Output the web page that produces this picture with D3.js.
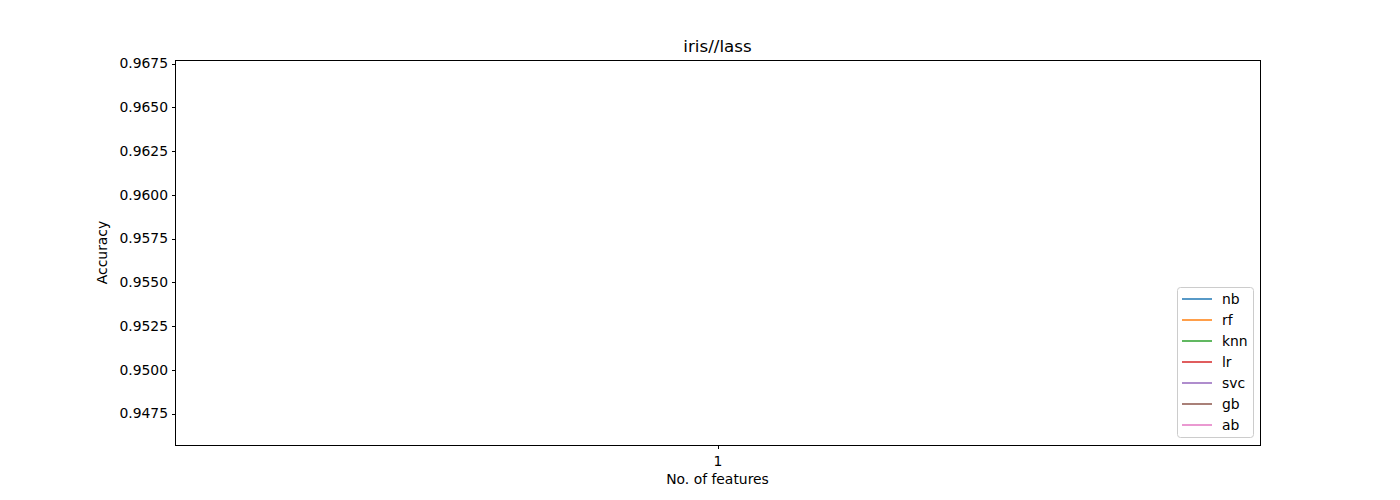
<!DOCTYPE html>
<html><head><meta charset="utf-8">
<script src="https://cdn.jsdelivr.net/npm/d3@7"></script>
<style>body{margin:0;background:#fff;} text{font-family:"DejaVu Sans",sans-serif;}</style>
</head><body>
<svg id="c" width="1400" height="500"></svg>
<script>
const features = [1];
const seriesNames = ["nb","rf","knn","lr","svc","gb","ab"];
const seriesColors = ["#1f77b4","#ff7f0e","#2ca02c","#d62728","#9467bd","#8c564b","#e377c2"];
const nb = [0.9533];
const rf = [0.9533];
const knn = [0.9667];
const lr = [0.9467];
const svc = [0.9600];
const gb = [0.9533];
const ab = [0.9533];
const yTicks = [0.9475,0.9500,0.9525,0.9550,0.9575,0.9600,0.9625,0.9650,0.9675];
const xTicks = [1];
const seriesValues = [nb,rf,knn,lr,svc,gb,ab];

const svg = d3.select("#c");
const L=175,R=1260,T=60,B=445;
const allV = seriesValues.flat();
const mn=d3.min(allV), mx=d3.max(allV), pad=(mx-mn)*0.05;
const y = d3.scaleLinear().domain([mn-pad,mx+pad]).range([B,T]);
const x = d3.scaleLinear().domain([0.95,1.05]).range([L,R]);

const line = d3.line().x((d,i)=>x(features[i])).y(d=>y(d));
seriesValues.forEach((s,i)=>{
  svg.append("path").attr("d",line(s)).attr("fill","none").attr("stroke",seriesColors[i]).attr("stroke-width",1.5);
});

const yAxis = svg.append("g").attr("transform",`translate(${L},0)`).call(d3.axisLeft(y).tickValues(yTicks).tickFormat(d3.format(".4f")).tickSize(3.5).tickPadding(3.5));
const xAxis = svg.append("g").attr("transform",`translate(0,${B})`).call(d3.axisBottom(x).tickValues(xTicks).tickFormat(d3.format("d")).tickSize(3.5).tickPadding(3.5));
[yAxis,xAxis].forEach(g=>{
  g.select(".domain").remove();
  g.selectAll("text").attr("font-size","13.9px").attr("fill","#000").style("font-family","DejaVu Sans");
  g.selectAll("line").attr("stroke","#000").attr("stroke-width",1).attr("shape-rendering","crispEdges");
});
xAxis.selectAll("text").attr("y",21).attr("dy",0);
svg.append("rect").attr("x",L).attr("y",T).attr("width",R-L).attr("height",B-T).attr("fill","none").attr("stroke","#000").attr("stroke-width",1).attr("shape-rendering","crispEdges");

svg.append("text").attr("x",(L+R)/2).attr("y",52).attr("text-anchor","middle").attr("font-size","16.7px").text("iris//lass");
svg.append("text").attr("x",(L+R)/2).attr("y",484).attr("text-anchor","middle").attr("font-size","13.9px").text("No. of features");
svg.append("text").attr("transform",`translate(107,${(T+B)/2}) rotate(-90)`).attr("text-anchor","middle").attr("font-size","13.9px").text("Accuracy");

const lg = svg.append("g");
lg.append("rect").attr("x",1177.5).attr("y",287.5).attr("width",76).attr("height",150).attr("rx",3).attr("fill","#fff").attr("fill-opacity",0.8).attr("stroke","#ccc").attr("stroke-width",1);
seriesNames.forEach((n,i)=>{
  const yy = 299 + i*21;
  lg.append("line").attr("x1",1182).attr("x2",1212).attr("y1",yy).attr("y2",yy).attr("stroke",seriesColors[i]).attr("stroke-width",1.5);
  lg.append("text").attr("x",1222).attr("y",yy+5).attr("font-size","13.9px").text(n);
});
</script>
</body></html>
